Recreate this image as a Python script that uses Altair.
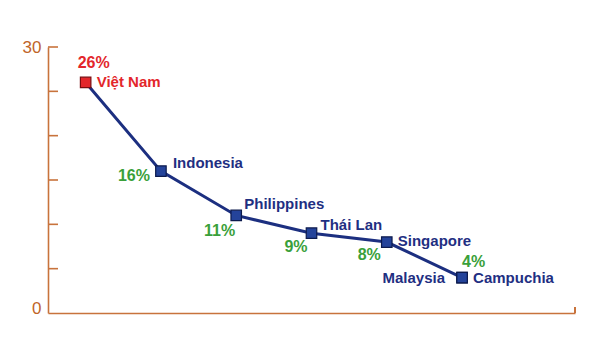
import altair as alt
import pandas as pd

# ---- data ----
countries = ["Việt Nam", "Indonesia", "Philippines", "Thái Lan", "Singapore", "Malaysia", "Campuchia"]
values = [26, 16, 11, 9, 8, 4, 4]
rank = [0, 1, 2, 3, 4, 5, 5]
pct_labels = ["26%", "16%", "11%", "9%", "8%", "", "4%"]
y_ticks = [5, 10, 15, 20, 25, 30]
y_labels = [0, 30]

df = pd.DataFrame({"country": countries, "value": values, "rank": rank, "pct": pct_labels})
ticks_df = pd.DataFrame({"t": y_ticks})

# ---- styles ----
AXIS_C = "#c8733c"
AXIS_LABEL_C = "#c0652a"
NAVY = "#1f2f82"
LINE_C = "#1c2f80"
MARK_FILL = "#24439a"
MARK_STROKE = "#0c1a4d"
RED = "#e3262b"
GREEN = "#3aa03a"
FONT = "Liberation Sans"

# label offsets (dx, dy, align) relative to each point
name_style = {
    "Việt Nam": (11, 0, "left"),
    "Indonesia": (12, -8, "left"),
    "Philippines": (8, -11, "left"),
    "Thái Lan": (9, -8, "left"),
    "Singapore": (11, -1, "left"),
    "Malaysia": (-17, 0, "right"),
    "Campuchia": (11, 0, "left"),
}
pct_style = {
    "Việt Nam": (-8, -19, "left"),
    "Indonesia": (-11, 5, "right"),
    "Philippines": (-1, 16, "right"),
    "Thái Lan": (-4, 14, "right"),
    "Singapore": (-6, 13, "right"),
    "Campuchia": (0, -16, "left"),
}

W, H = 527, 266

x = alt.X("rank:Q", scale=alt.Scale(domain=[-0.5, 6.5], nice=False, zero=False),
          axis=alt.Axis(title=None, labels=False, ticks=False, grid=False,
                        domainColor=AXIS_C, domainWidth=1.6))
y = alt.Y("value:Q", scale=alt.Scale(domain=[0, 30], nice=False),
          axis=alt.Axis(title=None, values=y_labels, ticks=False, grid=False,
                        domainColor=AXIS_C, domainWidth=1.6, labelColor=AXIS_LABEL_C,
                        labelFontSize=17, labelFont=FONT, labelPadding=7,
                        labelBaseline=alt.condition("datum.value == 0", alt.value("alphabetic"), alt.value("middle"))))

base = alt.Chart(df)

line = base.mark_line(color=LINE_C, strokeWidth=3).encode(x=x, y=y)

points = base.mark_square(size=110, strokeWidth=1.2, opacity=1).encode(
    x="rank:Q", y="value:Q",
    fill=alt.condition(alt.datum.country == "Việt Nam", alt.value(RED), alt.value(MARK_FILL)),
    stroke=alt.condition(alt.datum.country == "Việt Nam", alt.value("#7a0d10"), alt.value(MARK_STROKE)),
)

ytick_rules = alt.Chart(ticks_df).mark_rule(color=AXIS_C, strokeWidth=1.6).encode(
    y=alt.Y("t:Q", scale=alt.Scale(domain=[0, 30], nice=False)),
    x=alt.value(0), x2=alt.value(10),
)

xend_tick = alt.Chart(ticks_df).mark_rule(color=AXIS_C, strokeWidth=1.6).encode(
    x=alt.value(W), y=alt.value(H), y2=alt.value(H - 6),
)

layers = [ytick_rules, xend_tick, line, points]

for c in countries:
    dx, dy, al = name_style[c]
    col = RED if c == "Việt Nam" else NAVY
    layers.append(
        base.transform_filter(alt.datum.country == c).mark_text(
            align=al, baseline="middle", dx=dx, dy=dy, font=FONT, fontSize=15,
            fontWeight="bold", color=col
        ).encode(x="rank:Q", y="value:Q", text="country:N")
    )
    if c in pct_style:
        dx, dy, al = pct_style[c]
        col = RED if c == "Việt Nam" else GREEN
        layers.append(
            base.transform_filter(alt.datum.country == c).mark_text(
                align=al, baseline="middle", dx=dx, dy=dy, font=FONT, fontSize=16,
                fontWeight="bold", color=col
            ).encode(x="rank:Q", y="value:Q", text="pct:N")
        )

chart = alt.layer(*layers).properties(
    width=W, height=H,
    autosize=alt.AutoSizeParams(type="none"),
    padding={"left": 48, "top": 47, "right": 25, "bottom": 38},
    background="white",
).configure_view(stroke=None)

chart.save("out.html", embed_options={"renderer": "svg", "actions": False})
